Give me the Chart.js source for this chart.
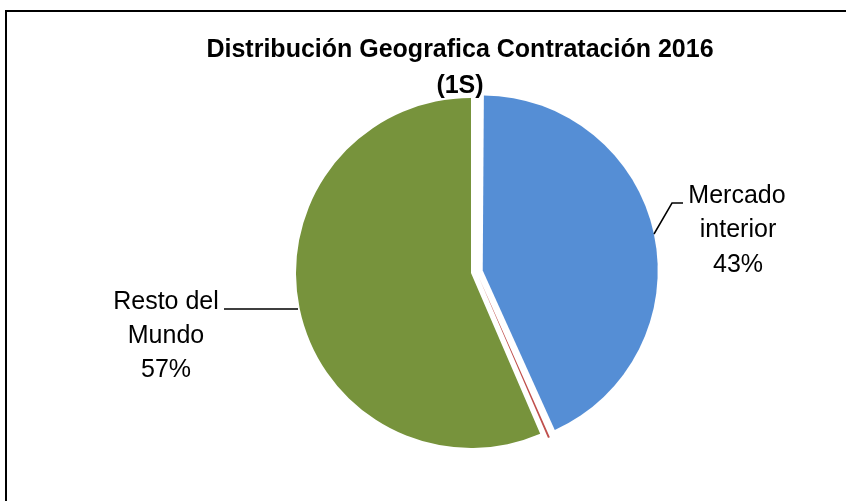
<!DOCTYPE html>
<html>
  <head>
    <meta charset="utf-8">
    <title>Distribución Geografica Contratación 2016</title>
    <script src="https://cdn.jsdelivr.net/npm/chart.js@4/dist/chart.umd.min.js"></script>
    <style>
      body { margin: 0; background: #fff; }
      #wrap { width: 846px; height: 501px; }
    </style>
  </head>
  <body>
    <div id="wrap"><canvas id="pie" width="846" height="501"></canvas></div>

    <script type="text/javascript">
      var TITLE = ["Distribución Geografica Contratación 2016", "(1S)"];
      var labels = ["Mercado interior", "Otros", "Resto del Mundo"];
      var values = [43.35, 0.18, 56.47];
      var shown = ["43%", "", "57%"];
      var colors = ["#558ED5", "#C0504D", "#77933C"];
      var explode = [48, 0, 0];
      // the thin slice sits a bit out and sideways, in the gap left by the exploded slice
      var nudge = [null, { radial: 7, side: 5.5 }, null];

      // Chart.js grows an exploded arc's radius; shrink it back so all slices match
      var sameRadius = {
        id: "sameRadius",
        afterDatasetUpdate: function(chart, args) {
          var arcs = chart.getDatasetMeta(args.index).data;
          arcs.forEach(function(arc, i) {
            var off = explode[i] / 4;
            if (off) {
              var circ = arc.endAngle - arc.startAngle;
              var fix = 1 - Math.sin(Math.min(Math.PI, circ));
              arc.outerRadius = arc.outerRadius - off * fix;
            }
            if (nudge[i]) {
              var mid = (arc.startAngle + arc.endAngle) / 2;
              var c = Math.cos(mid), s = Math.sin(mid);
              arc.x += nudge[i].radial * c + nudge[i].side * s;
              arc.y += nudge[i].radial * s - nudge[i].side * c;
            }
          });
        }
      };

      // frame + title + data labels drawn on top of the pie
      var decor = {
        id: "decor",
        beforeDraw: function(chart) {
          var ctx = chart.ctx;
          ctx.save();
          ctx.fillStyle = "#fff";
          ctx.fillRect(0, 0, chart.width, chart.height);
          ctx.restore();
        },
        afterDraw: function(chart) {
          var ctx = chart.ctx;
          ctx.save();
          ctx.strokeStyle = "#000";
          ctx.lineWidth = 2;
          ctx.beginPath();
          ctx.moveTo(6, chart.height + 2);
          ctx.lineTo(6, 11);
          ctx.lineTo(chart.width + 2, 11);
          ctx.stroke();

          ctx.fillStyle = "#000";
          ctx.textAlign = "center";
          ctx.textBaseline = "middle";
          ctx.font = "bold 25px 'Liberation Sans', Arial, sans-serif";
          ctx.fillText(TITLE[0], 460, 50);
          ctx.fillText(TITLE[1], 460, 86);

          ctx.font = "25px 'Liberation Sans', Arial, sans-serif";
          ctx.fillText("Mercado", 737, 196);
          ctx.fillText("interior", 738, 230);
          ctx.fillText(shown[0], 738, 265);
          ctx.fillText("Resto del", 166, 302);
          ctx.fillText("Mundo", 166, 336);
          ctx.fillText(shown[2], 166, 370);

          ctx.lineWidth = 1.5;
          ctx.beginPath();
          ctx.moveTo(654, 234);
          ctx.lineTo(672, 203);
          ctx.lineTo(683, 203);
          ctx.moveTo(224, 309);
          ctx.lineTo(298, 309);
          ctx.stroke();
          ctx.restore();
        }
      };

      new Chart(document.getElementById("pie"), {
        type: "pie",
        data: {
          labels: labels,
          datasets: [{
            data: values,
            backgroundColor: colors,
            borderWidth: 0,
            offset: explode
          }]
        },
        options: {
          responsive: false,
          animation: false,
          radius: 175,
          layout: { padding: { left: 100, right: 4, top: 60, bottom: 15 } },
          plugins: {
            legend: { display: false },
            title: { display: false },
            tooltip: { enabled: false }
          }
        },
        plugins: [sameRadius, decor]
      });
    </script>
  </body>
</html>
